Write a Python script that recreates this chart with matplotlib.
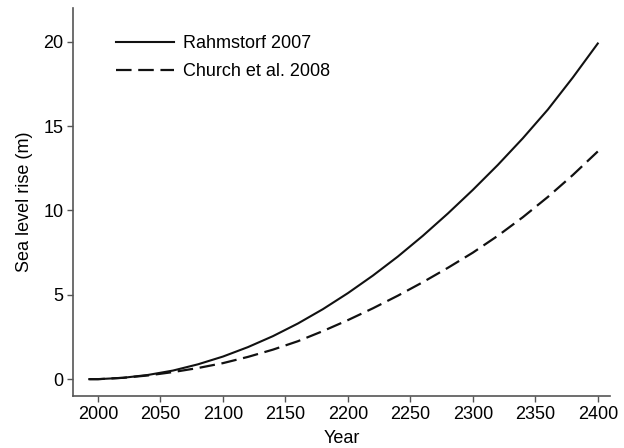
"""Projected sea level rise under two semi-empirical projections."""

import matplotlib
matplotlib.use('Agg')
import matplotlib.pyplot as plt

plt.rcParams['font.family'] = ['Liberation Sans', 'DejaVu Sans']

##
# DATA
years = [1993, 2000, 2020, 2040, 2060, 2080, 2100, 2120, 2140, 2160, 2180,
         2200, 2220, 2240, 2260, 2280, 2300, 2320, 2340, 2360, 2380, 2400]
rahmstorf = [0.0, 0.0, 0.08, 0.25, 0.51, 0.88, 1.34, 1.9, 2.55, 3.3, 4.15,
             5.1, 6.14, 7.27, 8.5, 9.82, 11.22, 12.7, 14.28, 15.98, 17.88, 19.9]
church = [0.0, 0.0, 0.08, 0.22, 0.42, 0.66, 0.95, 1.32, 1.75, 2.25, 2.85,
          3.5, 4.2, 4.95, 5.75, 6.6, 7.5, 8.5, 9.6, 10.8, 12.1, 13.5]
labels = ['Rahmstorf 2007', 'Church et al. 2008']
xticks = list(range(2000, 2401, 50))
yticks = [0, 5, 10, 15, 20]

fig = plt.figure(figsize=(6.24, 4.48), dpi=100)
ax = fig.add_axes([0.117, 0.116, 0.861, 0.866])

ax.plot(years, rahmstorf, color='#111111', lw=1.5, label=labels[0])
ax.plot(years, church, color='#111111', lw=1.6, dashes=(7, 3), label=labels[1])

ax.set_xlim(1980, 2410)
ax.set_ylim(-1, 22)
ax.set_xticks(xticks)
ax.set_yticks(yticks)

for side in ('top', 'right'):
    ax.spines[side].set_visible(False)
for side in ('left', 'bottom'):
    ax.spines[side].set_color('#555555')
    ax.spines[side].set_linewidth(1.2)
ax.tick_params(direction='out', length=4, width=1, color='#555555',
               labelsize=13, pad=3)

ax.set_xlabel('Year', fontsize=13, labelpad=5)
ax.set_ylabel('Sea level rise (m)', fontsize=13, labelpad=7)

ax.legend(loc='upper left', bbox_to_anchor=(0.05, 0.972), frameon=False,
          fontsize=13, handlelength=3.2, handletextpad=0.5, labelspacing=0.6)

fig.savefig('out.png', dpi=100)
